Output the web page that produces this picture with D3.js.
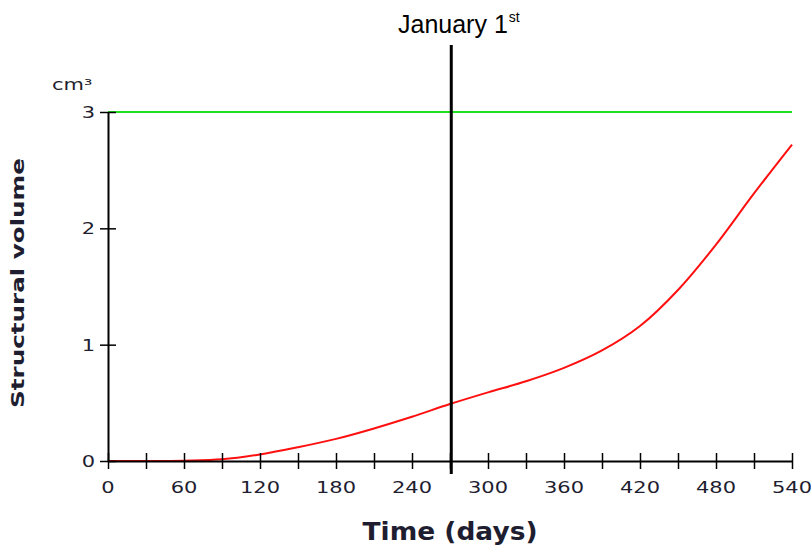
<!DOCTYPE html>
<html>
<head>
<meta charset="utf-8">
<script src="https://cdn.jsdelivr.net/npm/d3@7"></script>
<style>
  html, body { margin: 0; padding: 0; background: #fff; }
  svg { display: block; }
</style>
</head>
<body>
<svg id="chart" width="811" height="549"></svg>
<script>
// ---- data ----
const days = [0, 30, 60, 90, 120, 150, 180, 210, 240, 270, 300, 330, 360, 390, 420, 450, 480, 510, 540];
const volume = [0, 0, 0.003, 0.014, 0.056, 0.118, 0.19, 0.28, 0.38, 0.49, 0.59, 0.685, 0.8, 0.95, 1.16, 1.47, 1.86, 2.3, 2.72];
const maxVolume = 3;           // green reference line
const januaryFirstDay = 271;   // vertical marker
const xTickValues = [0, 30, 60, 90, 120, 150, 180, 210, 240, 270, 300, 330, 360, 390, 420, 450, 480, 510, 540];
const xLabelValues = [0, 60, 120, 180, 240, 300, 360, 420, 480, 540];
const yTickValues = [0, 1, 2, 3];
const xTitle = "Time (days)";
const yTitle = "Structural volume";
const yUnit = "cm³";
const markerLabel = "January 1";
const markerSup = "st";

(function () {
// ---- layout ----
const svg = d3.select("#chart");
const pLeft = 108, pRight = 792, pTop = 112, pBottom = 461;
const x = d3.scaleLinear().domain([0, 540]).range([pLeft, pRight]);
const y = d3.scaleLinear().domain([0, 3]).range([pBottom, pTop]);
const textColor = "#1e1e30";
const verdana = "Verdana, 'DejaVu Sans', sans-serif";

// green max line
svg.append("line")
  .attr("x1", x(0)).attr("x2", x(540))
  .attr("y1", y(maxVolume)).attr("y2", y(maxVolume))
  .attr("stroke", "#22dd22").attr("stroke-width", 2);

// red curve
const line = d3.line()
  .x((d, i) => x(days[i]))
  .y(d => y(d))
  .curve(d3.curveCatmullRom.alpha(0.5));
svg.append("path")
  .datum(volume)
  .attr("d", line)
  .attr("fill", "none")
  .attr("stroke", "#ff1010")
  .attr("stroke-width", 2);

// x axis
const xAxis = d3.axisBottom(x).tickValues(xTickValues).tickSize(0).tickFormat("");
const gx = svg.append("g").attr("transform", `translate(0,${pBottom})`).call(xAxis);
gx.select(".domain").attr("stroke", "#000").attr("stroke-width", 2);
gx.selectAll(".tick line").attr("y1", -8).attr("y2", 8).attr("stroke", "#000").attr("stroke-width", 1.5);

// x labels
svg.append("g").selectAll("text")
  .data(xLabelValues).join("text")
  .attr("transform", d => `translate(${x(d)},493) scale(1.4,1)`)
  .attr("text-anchor", "middle")
  .attr("font-family", verdana).attr("font-size", 15)
  .attr("fill", textColor)
  .text(d => d);

// y axis
const yAxis = d3.axisLeft(y).tickValues(yTickValues).tickSize(0).tickFormat("");
const gy = svg.append("g").attr("transform", `translate(${pLeft},0)`).call(yAxis);
gy.select(".domain").attr("stroke", "#000").attr("stroke-width", 2);
gy.selectAll(".tick line").attr("x1", -8).attr("x2", 8).attr("stroke", "#000").attr("stroke-width", 1.5);

svg.append("g").selectAll("text")
  .data(yTickValues).join("text")
  .attr("transform", d => `translate(95,${y(d) + 6}) scale(1.4,1)`)
  .attr("text-anchor", "end")
  .attr("font-family", verdana).attr("font-size", 15)
  .attr("fill", textColor)
  .text(d => d);

// unit
svg.append("text")
  .attr("transform", "translate(52,90) scale(1.4,1)")
  .attr("font-family", verdana).attr("font-size", 15)
  .attr("fill", textColor)
  .text(yUnit);

// helper: fit text to width
function fit(sel, w) {
  const len = sel.node().getComputedTextLength();
  return w / len;
}

// y title
const yt = svg.append("text")
  .attr("text-anchor", "middle")
  .attr("font-family", verdana).attr("font-size", 18).attr("font-weight", "bold")
  .attr("fill", textColor)
  .text(yTitle);
const ys = fit(yt, 250);
yt.attr("transform", `translate(24,283) rotate(-90) scale(${ys},1)`);

// x title
const xt = svg.append("text")
  .attr("text-anchor", "middle")
  .attr("font-family", verdana).attr("font-size", 24).attr("font-weight", "bold")
  .attr("fill", textColor)
  .text(xTitle);
const xs = fit(xt, 175);
xt.attr("transform", `translate(450,540) scale(${xs},1)`);

// January 1st marker
svg.append("line")
  .attr("x1", x(januaryFirstDay)).attr("x2", x(januaryFirstDay))
  .attr("y1", 45).attr("y2", 474)
  .attr("stroke", "#000").attr("stroke-width", 3);

const mt = svg.append("text")
  .attr("x", 398).attr("y", 33)
  .attr("font-family", "'Liberation Sans', Arial, sans-serif").attr("font-size", 25)
  .attr("fill", "#000");
mt.append("tspan").text(markerLabel);
mt.append("tspan").attr("font-size", 14).attr("dx", 1).attr("dy", -11).text(markerSup);
})();
</script>
</body>
</html>
